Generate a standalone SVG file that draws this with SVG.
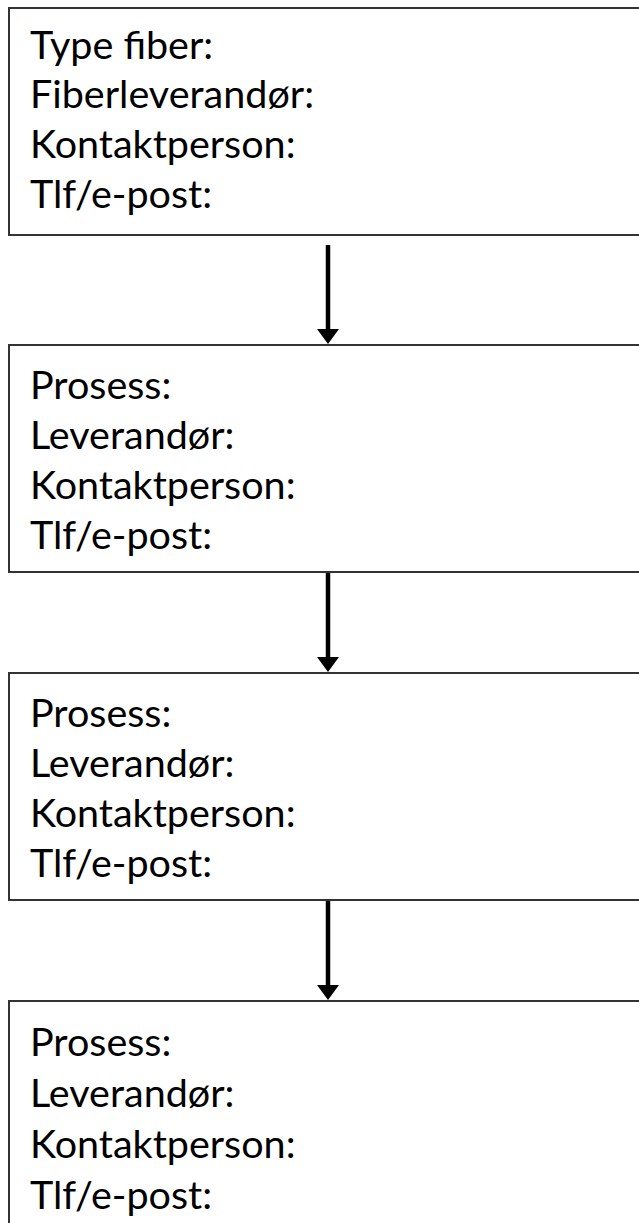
<svg xmlns="http://www.w3.org/2000/svg" width="639" height="1223" viewBox="0 0 639 1223">
<style>
.box{fill:#fff;stroke:#333;stroke-width:2}
.t{font-family:Lato,"Liberation Sans",sans-serif;font-size:39.5px;fill:#000}
.conn{stroke:#000;stroke-width:4.5;fill:none}
</style>
<defs>
<marker id="ah" markerUnits="userSpaceOnUse" markerWidth="15" markerHeight="22" refX="1" refY="11" viewBox="0 0 15 22" orient="auto"><path d="M0,0 L15,11 L0,22 Z" fill="#000"/></marker>
</defs>
<rect width="639" height="1223" fill="#fff"/>
<g id="node1">
<rect class="box" x="9" y="8" width="640" height="227"/>
<text class="t" x="30" y="59">Type fiber:</text>
<text class="t" x="30" y="108">Fiberleverandør:</text>
<text class="t" x="30" y="158">Kontaktperson:</text>
<text class="t" x="30" y="208">Tlf/e-post:</text>
</g>
<g id="node2">
<rect class="box" x="9" y="345" width="640" height="227"/>
<text class="t" x="30" y="399">Prosess:</text>
<text class="t" x="30" y="449">Leverandør:</text>
<text class="t" x="30" y="499">Kontaktperson:</text>
<text class="t" x="30" y="549">Tlf/e-post:</text>
</g>
<g id="node3">
<rect class="box" x="9" y="673" width="640" height="227"/>
<text class="t" x="30" y="727">Prosess:</text>
<text class="t" x="30" y="777">Leverandør:</text>
<text class="t" x="30" y="827">Kontaktperson:</text>
<text class="t" x="30" y="877">Tlf/e-post:</text>
</g>
<g id="node4">
<rect class="box" x="9" y="1001" width="640" height="240"/>
<text class="t" x="30" y="1056">Prosess:</text>
<text class="t" x="30" y="1107">Leverandør:</text>
<text class="t" x="30" y="1158">Kontaktperson:</text>
<text class="t" x="30" y="1209">Tlf/e-post:</text>
</g>
<g id="connectors">
<line class="conn" x1="328" y1="245" x2="328" y2="330" marker-end="url(#ah)"/>
<line class="conn" x1="328" y1="573" x2="328" y2="658" marker-end="url(#ah)"/>
<line class="conn" x1="328" y1="901" x2="328" y2="986" marker-end="url(#ah)"/>
</g>
</svg>
